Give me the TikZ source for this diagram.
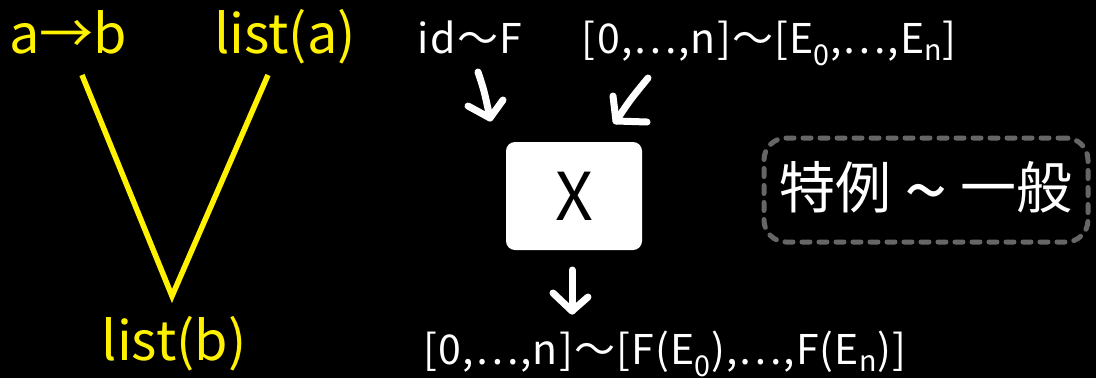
\documentclass[tikz,border=0pt]{standalone}
\usepackage{fontspec}
\setmainfont{Noto Sans CJK JP}
\newfontfamily\exprfont[LetterSpace=3]{Noto Sans CJK JP}
\begin{document}
\begin{tikzpicture}[x=1pt,y=-1pt,
  lbl/.style={text=yellow,font=\fontsize{54}{60}\selectfont,inner sep=0pt,anchor=base},
  expr/.style={text=white,font=\exprfont\fontsize{41}{44}\selectfont,inner sep=0pt,anchor=base},
  vline/.style={draw=yellow,line width=5.5pt},
  hand/.style={draw=white,line width=7pt,line cap=round,line join=round},
  box/.style={fill=white,rounded corners=9pt,minimum width=136pt,minimum height=108pt,
    font=\fontsize{66}{70}\selectfont,text=black},
  group/.style={draw=black!60!white,line width=5pt,dash pattern=on 8pt off 9pt,line cap=round,
    rounded corners=22pt,minimum width=324pt,minimum height=104pt,text=white,
    font=\fontsize{56}{60}\selectfont}]
\useasboundingbox[fill=black] (0,0) rectangle (1096,378);

% left: a->b lifted to lists
\node[lbl] (ab) at (68,53) {a→b};
\node[lbl] (la) at (285,53) {list(a)};
\node[lbl] (lb) at (174,360) {list(b)};
\coordinate (vl) at (82,75);
\coordinate (vr) at (268,75);
\coordinate (vb) at (172,296);
\draw[vline] (vl) -- (vb) -- (vr);

% right: instantiation
\node[expr] (idF) at (470,53) {id～F};
\node[expr] (lst) at (769,53) {[0,…,n]～[E\textsubscript{0},…,E\textsubscript{n}]};
\node[box] (X) at (574,196) {X};
\node[expr] (res) at (665,364) {[0,…,n]～[F(E\textsubscript{0}),…,F(E\textsubscript{n})]};
\node[group] (sp) at (926,190) {特例 \raisebox{-11pt}{\fontsize{78}{78}\selectfont\textasciitilde} 一般};

% hand-drawn arrows
\coordinate (a1s) at (478,72);
\coordinate (a1t) at (490,118);
\draw[hand] (a1s) .. controls (484,90) .. (a1t);
\draw[hand] (468,106) -- (a1t) -- (503,100);
\coordinate (a2s) at (648,78);
\coordinate (a2t) at (616,121);
\draw[hand] (a2s) .. controls (630,100) .. (a2t);
\draw[hand] (613,96) -- (a2t) -- (647,122);
\coordinate (a3s) at (572,270);
\coordinate (a3t) at (572,311);
\draw[hand] (a3s) -- (a3t);
\draw[hand] (553,293) -- (a3t) -- (588,297);
\end{tikzpicture}
\end{document}
